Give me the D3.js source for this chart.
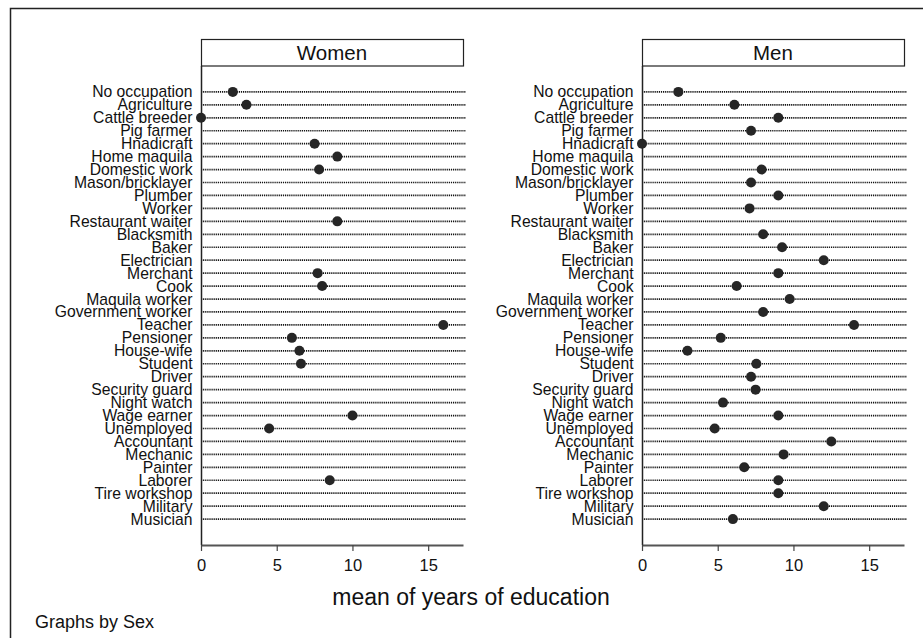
<!DOCTYPE html>
<meta charset="utf-8">
<head>
    <title>Mean years of education by occupation</title>
    <script src="https://cdn.jsdelivr.net/npm/d3@7"></script>
    <style>
        body { margin: 0; background: white; }
        text { font-family: "Liberation Sans", Arial, sans-serif; fill: #111; }
    </style>
</head>
<body>
    <div id="chart"></div>
    <script>
        // occupations, top to bottom
        var occupations = ["No occupation", "Agriculture", "Cattle breeder", "Pig farmer", "Hnadicraft",
            "Home maquila", "Domestic work", "Mason/bricklayer", "Plumber", "Worker", "Restaurant waiter",
            "Blacksmith", "Baker", "Electrician", "Merchant", "Cook", "Maquila worker", "Government worker",
            "Teacher", "Pensioner", "House-wife", "Student", "Driver", "Security guard", "Night watch",
            "Wage earner", "Unemployed", "Accountant", "Mechanic", "Painter", "Laborer", "Tire workshop",
            "Military", "Musician"];

        // mean years of education (null = no observations)
        var women = [2.1, 3.0, 0, null, 7.5, 9.0, 7.8, null, null, null, 9.0,
            null, null, null, 7.7, 8.0, null, null,
            16.0, 6.0, 6.5, 6.6, null, null, null,
            10.0, 4.5, null, null, null, 8.5, null, null, null];
        var men = [2.4, 6.1, 9.0, 7.2, 0, null, 7.9, 7.2, 9.0, 7.1, null,
            8.0, 9.25, 12.0, 9.0, 6.25, 9.75, 8.0,
            14.0, 5.2, 3.0, 7.55, 7.2, 7.5, 5.35,
            9.0, 4.8, 12.5, 9.35, 6.75, 9.0, 9.0, 12.0, 6.0];

        var panels = ["Women", "Men"];
        var xTicks = [0, 5, 10, 15];

        var width = 923, height = 638;
        var svg = d3.select("#chart").append("svg")
            .attr("width", width).attr("height", height);

        // outer frame (left and top edges visible)
        svg.append("path")
            .attr("d", "M10.5,638V8.5H923")
            .attr("fill", "none").attr("stroke", "#222").attr("stroke-width", 1.5);

        var plotTop = 66, plotBottom = 545;
        var y = d3.scalePoint().domain(occupations).range([plotTop, plotBottom]).padding(2);

        var panelLeft = [201, 642];
        var panelWidth = 262;
        var series = [women, men];

        panels.forEach(function(name, i) {
            var x0 = panelLeft[i];
            var x = d3.scaleLinear().domain([0, 17.3]).range([x0, x0 + panelWidth]);
            var g = svg.append("g");

            // header strip
            g.append("rect")
                .attr("x", x0 + 0.5).attr("y", 39.5)
                .attr("width", panelWidth).attr("height", 26.5)
                .attr("fill", "white").attr("stroke", "#222").attr("stroke-width", 1.2);
            g.append("text")
                .attr("x", x0 + panelWidth / 2).attr("y", 60)
                .attr("text-anchor", "middle")
                .style("font-size", "20.5px")
                .text(name);

            // dotted lines
            g.selectAll("line.dot")
                .data(occupations)
                .enter().append("line")
                .attr("x1", x0).attr("x2", x0 + panelWidth + 3)
                .attr("y1", function(d) { return y(d); })
                .attr("y2", function(d) { return y(d); })
                .attr("stroke", "#111").attr("stroke-width", 1.7)
                .attr("stroke-dasharray", "1.2,0.9");

            // category labels
            g.selectAll("text.lab")
                .data(occupations)
                .enter().append("text")
                .attr("x", x0 - 8.5)
                .attr("y", function(d) { return y(d) + 5.5; })
                .attr("text-anchor", "end")
                .style("font-size", "15.7px")
                .text(function(d) { return d; });

            // y axis line
            g.append("line")
                .attr("x1", x0 + 0.5).attr("x2", x0 + 0.5)
                .attr("y1", plotTop).attr("y2", plotBottom)
                .attr("stroke", "#222").attr("stroke-width", 1.5);

            // x axis
            var axis = g.append("g")
                .attr("transform", "translate(0," + plotBottom + ")")
                .call(d3.axisBottom(x).tickValues(xTicks).tickSize(6).tickPadding(8).tickSizeOuter(0));
            axis.select(".domain").attr("stroke", "#555").attr("stroke-width", 2);
            axis.selectAll(".tick line").attr("stroke", "#444").attr("stroke-width", 1.2);
            axis.selectAll(".tick text")
                .style("font-size", "16.5px")
                .style("font-family", "'Liberation Sans', Arial, sans-serif")
                .attr("fill", "#111");

            // points
            var pts = occupations.map(function(o, k) { return { occ: o, v: series[i][k] }; })
                .filter(function(d) { return d.v !== null; });
            g.selectAll("circle")
                .data(pts)
                .enter().append("circle")
                .attr("cx", function(d) { return x(d.v); })
                .attr("cy", function(d) { return y(d.occ); })
                .attr("r", 5)
                .attr("fill", "#262626");
        });

        svg.append("text")
            .attr("x", 471).attr("y", 605)
            .attr("text-anchor", "middle")
            .style("font-size", "23px")
            .text("mean of years of education");

        svg.append("text")
            .attr("x", 35).attr("y", 628)
            .style("font-size", "18px")
            .text("Graphs by Sex");
    </script>
</body>
</html>
